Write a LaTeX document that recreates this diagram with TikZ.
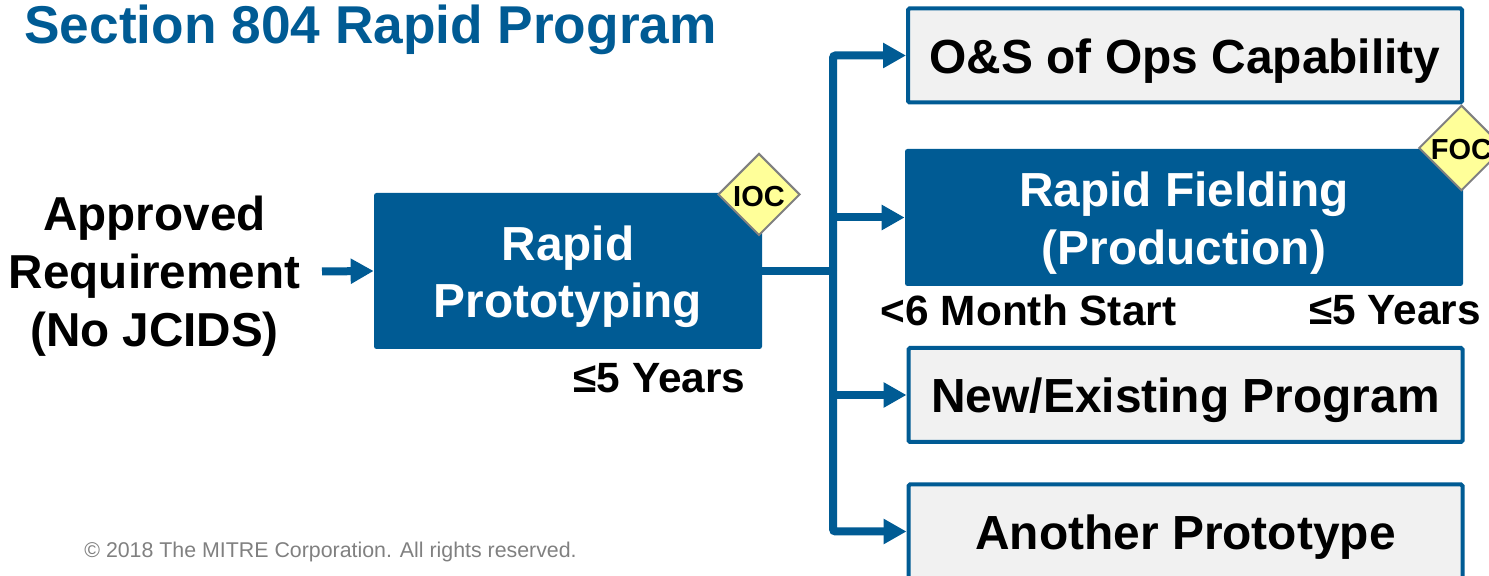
\documentclass[tikz,border=0pt]{standalone}
\usepackage{fontspec}
\setmainfont{Liberation Sans}
\usetikzlibrary{arrows.meta,shapes.geometric}
\definecolor{mitreblue}{RGB}{0,91,148}
\definecolor{boxgray}{RGB}{241,241,241}
\definecolor{flagyellow}{RGB}{255,255,153}
\definecolor{flaggray}{RGB}{128,128,128}
\newcommand{\dropline}{\rule{0pt}{0.92cm}}
\tikzset{
  plainbox/.style={draw=mitreblue,line width=0.08cm,fill=boxgray,rounded corners=0.03cm,minimum width=11.08cm,minimum height=1.88cm,inner sep=0pt,font=\fontsize{27.25}{32}\bfseries\selectfont,execute at begin node=\dropline},
  solidbox/.style={fill=mitreblue,rounded corners=0.05cm,inner sep=0pt,text=white,align=center,font=\fontsize{27.2}{32.5}\bfseries\selectfont},
  flag/.style={diamond,draw=flaggray,line width=0.04cm,fill=flagyellow,minimum width=1.64cm,minimum height=1.64cm,inner sep=0pt,font=\fontsize{16.5}{19}\bfseries\selectfont,execute at begin node=\rule{0pt}{0.48cm}},
  flow/.style={draw=mitreblue,line width=0.16cm},
  flowarrow/.style={flow,-{Triangle[length=0.46cm,width=0.48cm]}},
  note/.style={inner sep=0pt,font=\fontsize{24.1}{28}\bfseries\selectfont}
}
\begin{document}
\begin{tikzpicture}
  \useasboundingbox (0,0) rectangle (29.78,11.52);
  \clip (0,0) rectangle (29.78,11.52);

  \node (title) [inner sep=0pt,anchor=west,text=mitreblue,font=\fontsize{30.3}{36}\bfseries\selectfont] at (0.48,10.92) {Section 804 Rapid Program};
  \node (req) [inner sep=0pt,align=center,font=\fontsize{27.1}{33}\bfseries\selectfont] at (3.09,6.00) {Approved\\Requirement\\(No JCIDS)};
  \coordinate (reqout) at (6.44,6.09);

  \node (proto) [solidbox,minimum width=7.76cm,minimum height=3.12cm] at (11.36,6.10) {\dropline Rapid\\Prototyping};
  \node (ops) [plainbox] at (23.70,10.41) {O\&S of Ops Capability};
  \node (field) [solidbox,minimum width=11.16cm,minimum height=2.74cm] at (23.68,7.17) {\dropline Rapid Fielding\\(Production)};
  \node (prog) [plainbox] at (23.71,3.62) {New/Existing Program};
  \node (next) [plainbox] at (23.71,0.89) {Another Prototype};

  \node (ioc) [flag] at (15.18,7.63) {IOC};
  \node (foc) [flag] at (29.23,8.56) {FOC};

  \node (protoyears) [note] at (13.19,3.96) {≤5 Years};
  \node (fieldstart) [note] at (20.57,5.31) {<6 Month Start};
  \node (fieldyears) [note] at (27.90,5.31) {≤5 Years};
  \node (copy) [inner sep=0pt,anchor=west,text=flaggray,font=\fontsize{12.15}{14}\selectfont] at (1.68,0.48) {© 2018 The MITRE Corporation. All rights reserved.};

  \coordinate (hub) at (16.66,6.10);

  \draw [flowarrow] (reqout) -- (proto.west);
  \draw [flow] (proto.east) -- (hub);
  \draw [flowarrow,rounded corners=0.05cm] (hub) |- (ops.west);
  \draw [flowarrow] (hub) |- (field.west);
  \draw [flowarrow] (hub) |- (prog.west);
  \draw [flowarrow,rounded corners=0.05cm] (hub) |- (next.west);
\end{tikzpicture}
\end{document}
